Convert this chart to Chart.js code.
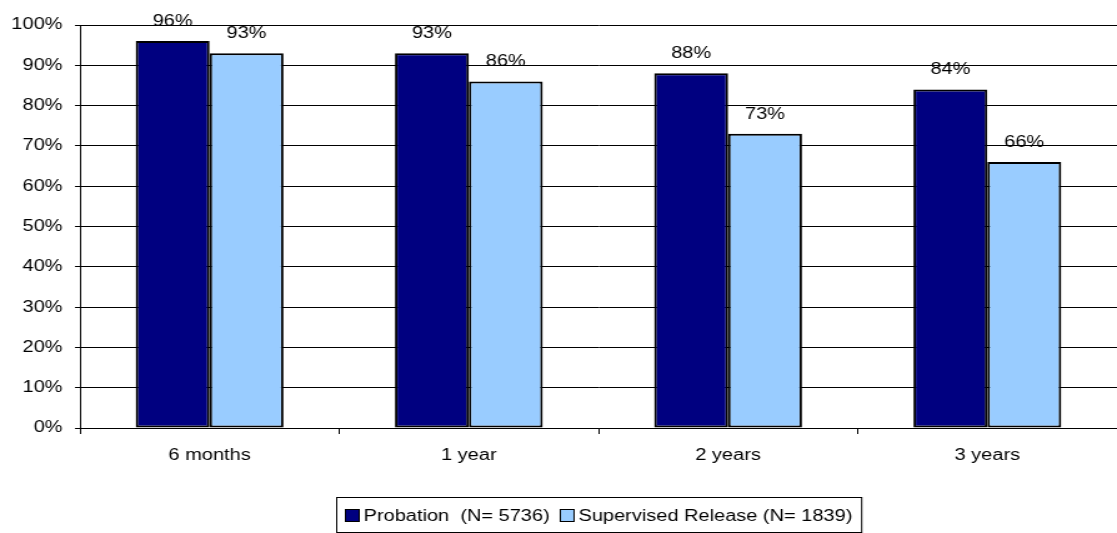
<!DOCTYPE html>
<html>
<head>
<meta charset="utf-8">
<script src="https://cdn.jsdelivr.net/npm/chart.js@4/dist/chart.umd.min.js"></script>
<style>
    html, body { margin: 0; padding: 0; background: #fff; overflow: hidden; }
    #wrap { width: 894px; height: 533px; transform: scaleX(1.2494); transform-origin: 0 0; }
    #chart { display: block; }
</style>
</head>
<body>
<div id="wrap"><canvas id="chart" width="894" height="533"></canvas></div>
<script>
// ===================== DATA =====================
const categories = ['6 months', '1 year', '2 years', '3 years'];
const probation = [96, 93, 88, 84];
const supervised = [93, 86, 73, 66];
const seriesNames = ['Probation  (N= 5736)', 'Supervised Release (N= 1839)'];
const yTicks = [0, 10, 20, 30, 40, 50, 60, 70, 80, 90, 100];

const FONT = '"Liberation Sans", Arial, sans-serif';

// value labels above each bar
const barLabels = {
    id: 'barLabels',
    afterDatasetsDraw(chart) {
        const ctx = chart.ctx;
        ctx.save();
        ctx.font = '16px ' + FONT;
        ctx.fillStyle = '#000';
        ctx.textAlign = 'center';
        ctx.textBaseline = 'alphabetic';
        chart.data.datasets.forEach((ds, i) => {
            chart.getDatasetMeta(i).data.forEach((bar, j) => {
                ctx.fillText(ds.data[j] + '%', bar.x, bar.y - 15);
            });
        });
        ctx.restore();
    }
};

// framed legend below the axis
const boxedLegend = {
    id: 'boxedLegend',
    afterDraw(chart) {
        const ctx = chart.ctx;
        const area = chart.chartArea;
        ctx.save();
        ctx.font = '16px ' + FONT;
        const box = 12, gap = 3, between = 8, pad = 7;
        const items = chart.data.datasets.map(ds => ({
            text: ds.label, color: ds.backgroundColor, w: ctx.measureText(ds.label).width
        }));
        let total = pad * 2;
        items.forEach((it, i) => { total += box + gap + it.w + (i ? between : 0); });
        const left = Math.round((area.left + area.right) / 2 - total / 2);
        const top = 497, bottom = 532;

        ctx.strokeStyle = '#000';
        ctx.lineWidth = 1;
        ctx.strokeRect(left + 0.5, top + 0.5, total, bottom - top);

        let x = left + pad;
        items.forEach((it, i) => {
            if (i) x += between;
            ctx.fillStyle = it.color;
            ctx.fillRect(x, 509, box, 12);
            ctx.strokeRect(x + 0.5, 509.5, box - 1, 12);
            x += box + gap;
            ctx.fillStyle = '#000';
            ctx.textBaseline = 'alphabetic';
            ctx.fillText(it.text, x, 521);
            x += it.w;
        });
        ctx.restore();
    }
};

const ctx = document.getElementById('chart').getContext('2d');
new Chart(ctx, {
    type: 'bar',
    data: {
        labels: categories,
        datasets: [{
            label: seriesNames[0],
            data: probation,
            backgroundColor: '#000080',
            borderColor: '#000',
            borderWidth: 2,
            borderSkipped: false
        }, {
            label: seriesNames[1],
            data: supervised,
            backgroundColor: '#99ccff',
            borderColor: '#000',
            borderWidth: 2,
            borderSkipped: false
        }]
    },
    options: {
        responsive: false,
        animation: false,
        devicePixelRatio: 1,
        layout: { padding: { top: 25, right: 0, bottom: 60, left: 0 } },
        datasets: {
            bar: { categoryPercentage: 0.57, barPercentage: 1.0 }
        },
        plugins: {
            legend: { display: false },
            tooltip: { enabled: false }
        },
        scales: {
            x: {
                offset: true,
                grid: {
                    offset: true,
                    drawOnChartArea: false,
                    tickLength: 6,
                    color: '#000'
                },
                border: { display: true, color: '#000', width: 1 },
                ticks: {
                    font: { family: FONT, size: 16 },
                    color: '#000',
                    padding: 12,
                    maxRotation: 0
                },
                afterFit(scale) { scale.height = 45; }
            },
            y: {
                min: 0,
                max: 100,
                afterBuildTicks(scale) { scale.ticks = yTicks.map(v => ({ value: v })); },
                grid: {
                    color: '#000',
                    lineWidth: 1,
                    tickLength: 4
                },
                border: { display: true, color: '#000', width: 1 },
                ticks: {
                    font: { family: FONT, size: 16 },
                    color: '#000',
                    padding: 10,
                    callback: v => v + '%'
                },
                afterFit(scale) { scale.width = 64; }
            }
        }
    },
    plugins: [barLabels, boxedLegend]
});
</script>
</body>
</html>
